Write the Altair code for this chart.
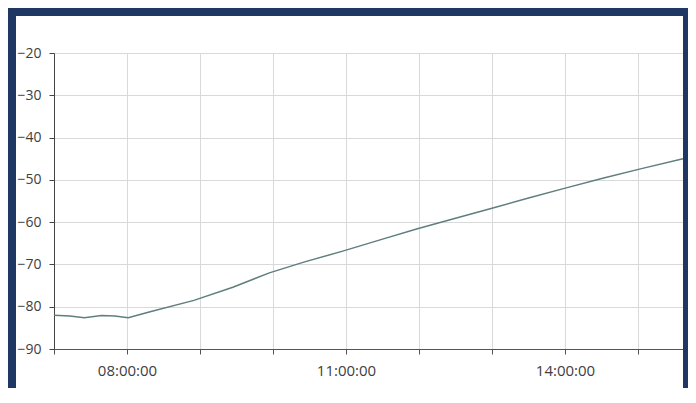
import altair as alt
import pandas as pd

# Data
times = ["07:00", "07:13", "07:25", "07:39", "07:50", "08:01", "08:19", "08:55",
         "09:27", "09:57", "10:26", "10:58", "11:28", "11:58", "12:30", "13:00",
         "13:30", "14:01", "14:31", "15:02", "15:37"]
values = [-82.0, -82.2, -82.6, -82.1, -82.2, -82.6, -81.2, -78.5,
          -75.4, -72.0, -69.4, -66.8, -64.2, -61.6, -59.1, -56.7,
          -54.3, -51.9, -49.6, -47.4, -45.0]
tick_hours = [7, 8, 9, 10, 11, 12, 13, 14, 15]
y_ticks = [-90, -80, -70, -60, -50, -40, -30, -20]

df = pd.DataFrame({
    "time": ["2024-01-01T" + t + ":00Z" for t in times],
    "value": values,
})

W, H = 629, 296
PAD_L, PAD_T, PAD_R, PAD_B = 46, 45, 5, 39
NAVY = "#1f3763"
FONT = "Open Sans"

x_vals = [alt.DateTime(year=2024, month=1, date=1, hours=h, utc=True) for h in tick_hours]

line = alt.Chart(df).mark_line(color="#5f7e7e", strokeWidth=1.5).encode(
    x=alt.X(
        "time:T",
        scale=alt.Scale(
            type="utc",
            domain=[
                alt.DateTime(year=2024, month=1, date=1, hours=7, utc=True),
                alt.DateTime(year=2024, month=1, date=1, hours=15, minutes=37, utc=True),
            ],
        ),
        axis=alt.Axis(
            title=None,
            values=x_vals,
            labelExpr="utchours(datum.value) % 3 == 2 ? utcFormat(datum.value, '%H:%M:%S') : ''",
            grid=True,
            gridColor="#d9d9d9",
            domainColor="#555555",
            tickColor="#555555",
            tickSize=5,
            labelPadding=9,
            labelFont=FONT,
            labelFontSize=15,
            labelColor="#404040",
            labelFlush=False,
            labelOverlap=False,
        ),
    ),
    y=alt.Y(
        "value:Q",
        scale=alt.Scale(domain=[-90, -20], nice=False, zero=False),
        axis=alt.Axis(
            title=None,
            values=y_ticks,
            grid=True,
            gridColor="#d9d9d9",
            domainColor="#444444",
            tickColor="#444444",
            tickSize=5,
            labelPadding=8,
            labelFont=FONT,
            labelFontSize=14,
            labelColor="#404040",
        ),
    ),
)

one = pd.DataFrame({"k": [0]})
frame_left = alt.Chart(one).mark_rect(color=NAVY).encode(
    x=alt.value(-PAD_L), x2=alt.value(-PAD_L + 8), y=alt.value(-PAD_T), y2=alt.value(H + PAD_B))
frame_top = alt.Chart(one).mark_rect(color=NAVY).encode(
    x=alt.value(-PAD_L), x2=alt.value(W + PAD_R), y=alt.value(-PAD_T), y2=alt.value(-PAD_T + 8))
frame_right = alt.Chart(one).mark_rect(color=NAVY).encode(
    x=alt.value(W), x2=alt.value(W + PAD_R), y=alt.value(-PAD_T), y2=alt.value(H + PAD_B))

chart = alt.layer(line, frame_left, frame_top, frame_right).properties(
    width=W,
    height=H,
    padding={"left": PAD_L, "top": PAD_T, "right": PAD_R, "bottom": PAD_B},
    autosize=alt.AutoSizeParams(type="none"),
    background="white",
).configure_view(stroke=None)

chart.save("out.html", embed_options={"renderer": "svg", "actions": False})
